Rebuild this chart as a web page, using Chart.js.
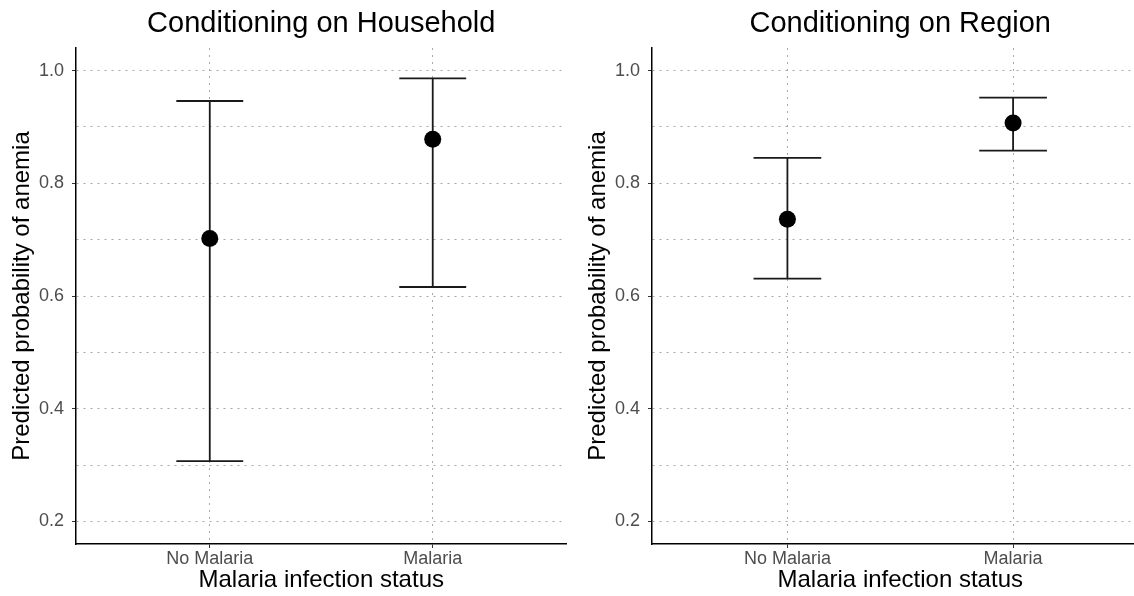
<!DOCTYPE html>
<html>
<head>
<meta charset="utf-8">
<script src="https://cdn.jsdelivr.net/npm/chart.js@4.4.1/dist/chart.umd.min.js"></script>
<style>
  html, body { margin: 0; padding: 0; background: #fff; overflow: hidden; width: 1134px; height: 596px; }
  .panel { position: absolute; top: 0; }
</style>
</head>
<body>
<div class="panel" style="left:0px"><canvas id="household" width="575" height="596"></canvas></div>
<div class="panel" style="left:576px"><canvas id="region" width="581" height="596"></canvas></div>
<script>
// categories and estimates
const categories = ['No Malaria', 'Malaria'];
const householdEst = [0.702, 0.878];
const householdLow = [0.307, 0.616];
const householdHigh = [0.946, 0.986];
const regionEst = [0.736, 0.907];
const regionLow = [0.631, 0.858];
const regionHigh = [0.845, 0.952];
const yTickLabels = [0.2, 0.4, 0.6, 0.8, 1.0];
const yGridValues = [0.2, 0.3, 0.4, 0.5, 0.6, 0.7, 0.8, 0.9, 1.0];

const FONT = "'Liberation Sans', Arial, Helvetica, sans-serif";

// whiskers behind the points, title centred over the panel like ggplot
const errorBars = {
    id: 'errorBars',
    beforeDatasetsDraw(chart) {
        const ds = chart.data.datasets[0];
        const xs = chart.scales.x, ys = chart.scales.y;
        const c = chart.ctx;
        c.save();
        c.strokeStyle = '#1a1a1a';
        c.lineWidth = 1.8;
        ds.data.forEach((d, i) => {
            const x = xs.getPixelForValue(d.x);
            const xl = xs.getPixelForValue(d.x - 0.15);
            const xr = xs.getPixelForValue(d.x + 0.15);
            const yl = ys.getPixelForValue(ds.low[i]);
            const yh = ys.getPixelForValue(ds.high[i]);
            c.beginPath();
            c.moveTo(x, yl); c.lineTo(x, yh);
            c.moveTo(xl, yl); c.lineTo(xr, yl);
            c.moveTo(xl, yh); c.lineTo(xr, yh);
            c.stroke();
        });
        c.restore();
    },
    afterDraw(chart, args, opts) {
        const a = chart.chartArea;
        const c = chart.ctx;
        c.save();
        c.fillStyle = '#000';
        c.font = '29px ' + FONT;
        c.textAlign = 'center';
        c.textBaseline = 'middle';
        c.fillText(opts.text, (a.left + a.right) / 2, 24);
        c.restore();
    }
};

function makePanel(id, title, est, low, high) {
    const ctx = document.getElementById(id).getContext('2d');
    return new Chart(ctx, {
        type: 'scatter',
        data: {
            datasets: [{
                data: est.map((v, i) => ({ x: i + 1, y: v })),
                low: low,
                high: high,
                pointRadius: 8.5,
                pointHoverRadius: 8.5,
                backgroundColor: '#000',
                borderColor: '#000',
                borderWidth: 0
            }]
        },
        options: {
            responsive: false,
            animation: false,
            devicePixelRatio: 1,
            layout: { padding: { left: 0, right: 6, top: 48, bottom: 0 } },
            plugins: {
                legend: { display: false },
                tooltip: { enabled: false },
                title: { display: false },
                errorBars: { text: title }
            },
            scales: {
                x: {
                    type: 'linear',
                    min: 0.4,
                    max: 2.6,
                    afterBuildTicks: s => { s.ticks = categories.map((c, i) => ({ value: i + 1 })); },
                    afterFit: s => { s.height = 52; },
                    ticks: {
                        callback: v => categories[Math.round(v) - 1],
                        color: '#4d4d4d',
                        font: { family: FONT, size: 18 },
                        padding: 0,
                        maxRotation: 0
                    },
                    grid: {
                        color: '#a8a8a8',
                        lineWidth: 1,
                        tickLength: 4,
                        tickColor: '#333',
                        tickWidth: 1
                    },
                    border: { color: '#000', width: 1.5, dash: [2, 5] },
                    title: {
                        display: true,
                        text: 'Malaria infection status',
                        color: '#000',
                        font: { family: FONT, size: 24 },
                        padding: { top: 0, bottom: 1 }
                    }
                },
                y: {
                    min: 0.16,
                    max: 1.04,
                    afterBuildTicks: s => { s.ticks = yGridValues.map(v => ({ value: v })); },
                    afterFit: s => { s.width = 76; },
                    ticks: {
                        callback: v => yTickLabels.some(t => Math.abs(t - v) < 1e-6) ? v.toFixed(1) : '',
                        color: '#4d4d4d',
                        font: { family: FONT, size: 18 },
                        padding: 8
                    },
                    grid: {
                        color: '#a8a8a8',
                        lineWidth: 1,
                        tickLength: 4,
                        tickColor: c => yTickLabels.some(t => Math.abs(t - c.tick.value) < 1e-6) ? '#333' : 'rgba(0,0,0,0)',
                        tickWidth: 1
                    },
                    border: { color: '#000', width: 1.5, dash: [2, 5] },
                    title: {
                        display: true,
                        text: 'Predicted probability of anemia',
                        color: '#000',
                        font: { family: FONT, size: 24 },
                        padding: { top: 8, bottom: 0 }
                    }
                }
            }
        },
        plugins: [errorBars]
    });
}

makePanel('household', 'Conditioning on Household', householdEst, householdLow, householdHigh);
makePanel('region', 'Conditioning on Region', regionEst, regionLow, regionHigh);
</script>
</body>
</html>
